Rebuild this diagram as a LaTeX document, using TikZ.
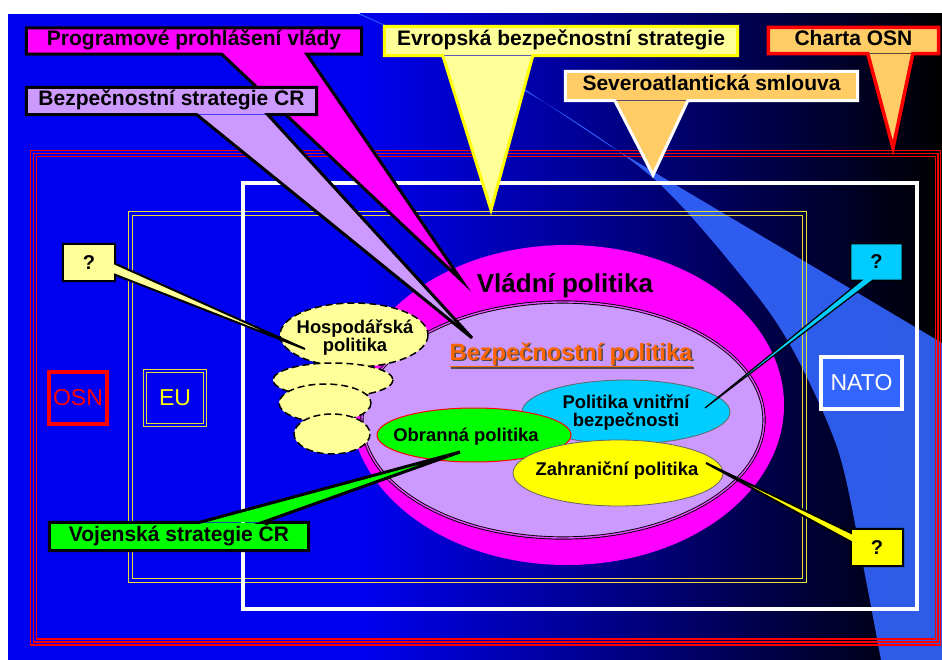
\documentclass[tikz,border=0pt]{standalone}
\usepackage{fontspec}
\setmainfont{Liberation Sans}

\definecolor{slideblue}{HTML}{0000F0}
\definecolor{glowblue}{HTML}{3366FF}
\definecolor{osnred}{HTML}{FF0000}
\definecolor{frameyellow}{HTML}{E6DC3C}
\definecolor{govmagenta}{HTML}{FF00FF}
\definecolor{seclilac}{HTML}{CC99FF}
\definecolor{paleyellow}{HTML}{FFFF99}
\definecolor{paleorange}{HTML}{FFCC66}
\definecolor{skycyan}{HTML}{00CCFF}
\definecolor{defgreen}{HTML}{00FF00}
\definecolor{fullyellow}{HTML}{FFFF00}
\definecolor{titleorange}{HTML}{FF6600}

\tikzset{
  wedgebox/.style={inner sep=0pt, text height=18pt, text depth=8pt, font=\bfseries\fontsize{21}{24}\selectfont},
  wedgeline/.style={line width=3pt},
  qbox/.style={inner sep=0pt, minimum width=52pt, minimum height=37pt, font=\bfseries\fontsize{20}{22}\selectfont},
  qline/.style={line width=2pt},
  poltext/.style={inner sep=0pt, align=center, font=\bfseries\fontsize{18.4}{18}\selectfont},
  hospcloud/.style={fill=paleyellow, draw=black, line width=1.5pt, dash pattern=on 7pt off 4pt},
  orgbox/.style={inner sep=0pt, minimum height=52pt, font=\fontsize{23}{24}\selectfont}
}

\begin{document}
\begin{tikzpicture}[x=1pt,y=-1pt]
  \useasboundingbox (0,0) rectangle (942,660);
  \fill[white] (0,0) rectangle (942,660);
  % slide background
  \fill[slideblue] (8,14) rectangle (361,660);
  \shade[left color=slideblue, right color=black] (360,14) rectangle (942,660);
  \fill[glowblue, opacity=0.9] plot[smooth] coordinates {(358,14) (523,90) (653,178) (747,283) (793,350) (838,450) (862,560) (881,660)}
    -- (942,660) -- (942,343) -- (610,146) -- (523,88) -- (361,14) -- cycle;

  % frames: OSN, EU, NATO
  \draw[osnred, line width=1.5pt] (30.5,150.5) rectangle (940.5,645);
  \draw[osnred, line width=1.5pt] (33.5,153.5) rectangle (938,642);
  \draw[osnred, line width=1.5pt] (36.5,156.5) rectangle (935.5,639);
  \draw[frameyellow, line width=1pt] (128.5,212) rectangle (806,582);
  \draw[frameyellow, line width=1pt] (132,215.5) rectangle (802.5,578.5);
  \draw[white, line width=4pt] (243,183) rectangle (917,609);

  \node[orgbox, draw=osnred, line width=3.5pt, minimum width=58pt, text=osnred] (osn) at (78,398) {OSN};
  \node[orgbox, draw=frameyellow, double=slideblue, double distance=2pt, line width=1pt, minimum width=60pt, minimum height=54pt, text=fullyellow] (eu) at (175,398) {EU};
  \node[orgbox, draw=white, line width=4pt, fill=glowblue, minimum width=81pt, text=white] (nato) at (861.5,383) {NATO};

  % policies
  \fill[govmagenta] (567,405) ellipse [x radius=217, y radius=160];
  \node[font=\bfseries\fontsize{26}{28}\selectfont] (vlp) at (565,286) {Vládní politika};
  \draw[fill=seclilac, line width=0.9pt, double=govmagenta!50!seclilac, double distance=1.4pt] (563,420) ellipse [x radius=201, y radius=118];
  \node[inner sep=0pt, text=black!70, font=\bfseries\fontsize{23.6}{25}\selectfont] (bzpshadow) at (572.5,355.5) {Bezpečnostní politika};
  \draw[black!70, line width=1.8pt] ([yshift=-1pt]bzpshadow.south west) -- ([yshift=-1pt]bzpshadow.south east);
  \node[inner sep=0pt, text=titleorange, font=\bfseries\fontsize{23.6}{25}\selectfont] (bzp) at (571,354) {Bezpečnostní politika};
  \draw[titleorange, line width=1.8pt] ([yshift=-1pt]bzp.south west) -- ([yshift=-1pt]bzp.south east);

  \draw[fill=skycyan, draw=black!60, line width=0.8pt] (626,412) ellipse [x radius=104, y radius=32];
  \node[poltext] (pvb) at (626,413) {Politika vnitřní\\bezpečnosti};
  \draw[fill=defgreen, draw=red, line width=1pt] (474,435) ellipse [x radius=97, y radius=27];
  \node[poltext] (obp) at (466,437) {Obranná politika};
  \draw[fill=fullyellow, draw=black!60, line width=0.8pt] (618,473) ellipse [x radius=105, y radius=33];
  \node[poltext] (zap) at (617,471) {Zahraniční politika};

  \draw[hospcloud] (354,335) ellipse [x radius=74, y radius=32];
  \node[poltext] (hsp) at (355,338) {Hospodářská\\politika};
  \draw[hospcloud] (333,380) ellipse [x radius=60, y radius=17];
  \draw[hospcloud] (325,403) ellipse [x radius=46, y radius=19];
  \draw[hospcloud] (332,434) ellipse [x radius=38, y radius=20];

  % question boxes
  \coordinate (q1tip) at (305,349);
  \node[qbox, fill=paleyellow] (q1) at (89,262.5) {?};
  \fill[paleyellow] ([yshift=-20pt]q1.north east) -- (q1tip) -- ([yshift=-31pt]q1.north east) -- cycle;
  \draw[qline] (q1.north west) -- (q1.north east) -- ([yshift=-20pt]q1.north east) -- (q1tip) -- ([yshift=-31pt]q1.north east) -- (q1.south east) -- (q1.south west) -- cycle;

  \coordinate (q2tip) at (705,408);
  \node[qbox, fill=skycyan, minimum width=51pt, minimum height=36pt] (q2) at (876.5,262) {?};
  \fill[skycyan] ([xshift=11pt]q2.south west) -- (q2tip) -- ([xshift=22pt]q2.south west) -- cycle;
  \draw[qline, line width=1.2pt] (q2.north west) -- (q2.north east) -- (q2.south east) -- ([xshift=22pt]q2.south west) -- (q2tip) -- ([xshift=11pt]q2.south west) -- (q2.south west) -- cycle;

  \coordinate (q3tip) at (706,463);
  \node[qbox, fill=fullyellow] (q3) at (877,547.5) {?};
  \fill[fullyellow] ([yshift=-4pt]q3.north west) -- (q3tip) -- ([yshift=-13pt]q3.north west) -- cycle;
  \draw[qline] (q3.north west) -- (q3.north east) -- (q3.south east) -- (q3.south west) -- ([yshift=-13pt]q3.north west) -- (q3tip) -- ([yshift=-4pt]q3.north west) -- cycle;

  % documents
  \coordinate (pphtip) at (462,281);
  \node[wedgebox, fill=govmagenta, minimum width=335pt, minimum height=26pt] (pph) at (194,41) {Programové prohlášení vlády};
  \fill[govmagenta] ([xshift=195.5pt]pph.south west) -- (pphtip) -- ([xshift=280.5pt]pph.south west) -- cycle;
  \draw[wedgeline] (pph.north west) -- (pph.north east) -- (pph.south east) -- ([xshift=280.5pt]pph.south west) -- (pphtip) -- ([xshift=195.5pt]pph.south west) -- (pph.south west) -- cycle;

  \coordinate (bsctip) at (472,338);
  \node[wedgebox, fill=seclilac, minimum width=290pt, minimum height=27pt] (bsc) at (171.5,101) {Bezpečnostní strategie ČR};
  \fill[seclilac] ([xshift=170.5pt]bsc.south west) -- (bsctip) -- ([xshift=241.5pt]bsc.south west) -- cycle;
  \draw[wedgeline] (bsc.north west) -- (bsc.north east) -- (bsc.south east) -- ([xshift=241.5pt]bsc.south west) -- (bsctip) -- ([xshift=170.5pt]bsc.south west) -- (bsc.south west) -- cycle;

  \coordinate (ebstip) at (491,210);
  \node[wedgebox, fill=paleyellow, minimum width=353pt, minimum height=29pt] (ebs) at (561,41) {Evropská bezpečnostní strategie};
  \fill[paleyellow] ([xshift=58.5pt]ebs.south west) -- (ebstip) -- ([xshift=148.5pt]ebs.south west) -- cycle;
  \draw[wedgeline, fullyellow] (ebs.north west) -- (ebs.north east) -- (ebs.south east) -- ([xshift=148.5pt]ebs.south west) -- (ebstip) -- ([xshift=58.5pt]ebs.south west) -- (ebs.south west) -- cycle;

  \coordinate (sastip) at (653,175);
  \node[wedgebox, fill=paleorange, minimum width=292pt, minimum height=29pt] (sas) at (711.5,86) {Severoatlantická smlouva};
  \fill[paleorange] ([xshift=49.5pt]sas.south west) -- (sastip) -- ([xshift=122.5pt]sas.south west) -- cycle;
  \draw[wedgeline, white] (sas.north west) -- (sas.north east) -- (sas.south east) -- ([xshift=122.5pt]sas.south west) -- (sastip) -- ([xshift=49.5pt]sas.south west) -- (sas.south west) -- cycle;

  \coordinate (chotip) at (893,148);
  \node[wedgebox, fill=paleorange, minimum width=170pt, minimum height=26pt] (cho) at (853.5,40.5) {Charta OSN};
  \fill[paleorange] ([xshift=99.5pt]cho.south west) -- (chotip) -- ([xshift=144.5pt]cho.south west) -- cycle;
  \draw[wedgeline, osnred, line width=3.5pt] (cho.north west) -- (cho.north east) -- (cho.south east) -- ([xshift=144.5pt]cho.south west) -- (chotip) -- ([xshift=99.5pt]cho.south west) -- (cho.south west) -- cycle;

  \coordinate (vsctip) at (460,452);
  \node[wedgebox, fill=defgreen, minimum width=259pt, minimum height=28pt] (vsc) at (179,536.5) {Vojenská strategie ČR};
  \fill[defgreen] ([xshift=150.5pt]vsc.north west) -- (vsctip) -- ([xshift=213.5pt]vsc.north west) -- cycle;
  \draw[wedgeline] (vsc.north west) -- ([xshift=150.5pt]vsc.north west) -- (vsctip) -- ([xshift=213.5pt]vsc.north west) -- (vsc.north east) -- (vsc.south east) -- (vsc.south west) -- cycle;
\end{tikzpicture}
\end{document}
